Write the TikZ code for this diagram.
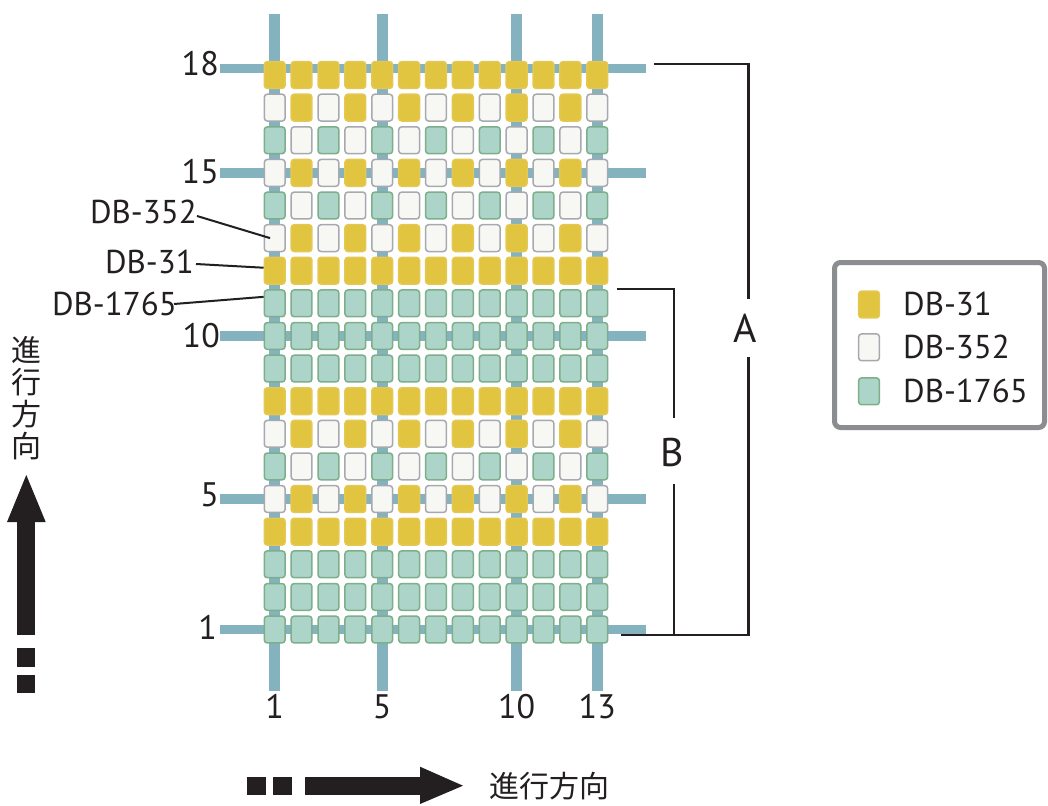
\documentclass[tikz,border=0pt]{standalone}
\usepackage{fontspec}
\setmainfont{PT Sans}
\newfontfamily\jpfont{Noto Sans CJK JP}
\usetikzlibrary{backgrounds}
\definecolor{warp}{HTML}{85B2BF}
\definecolor{dbY}{HTML}{E1C440}
\definecolor{dbYb}{HTML}{E4C852}
\definecolor{dbW}{HTML}{F7F7F3}
\definecolor{dbWb}{HTML}{A6A9AE}
\definecolor{dbG}{HTML}{ADD4C8}
\definecolor{dbGb}{HTML}{7CAF8A}
\definecolor{ink}{HTML}{231F20}
\definecolor{legb}{HTML}{8B8D90}
\begin{document}
\begin{tikzpicture}[x=1pt,y=-1pt,
  cellbase/.style={rectangle,inner sep=0pt,minimum width=20.8pt,minimum height=26.8pt,rounded corners=3pt,line width=1.5pt},
  cellY/.style={cellbase,fill=dbY,draw=dbYb},
  cellW/.style={cellbase,fill=dbW,draw=dbWb},
  cellG/.style={cellbase,fill=dbG,draw=dbGb},
  cellY0/.style={cellY}, cellY1/.style={cellY},
  cellG0/.style={cellG}, cellG1/.style={cellG},
  cellA0/.style={cellY}, cellA1/.style={cellW},
  cellB0/.style={cellW}, cellB1/.style={cellG},
  warpv/.style={draw=warp,line width=11pt},
  warph/.style={draw=warp,line width=9.5pt},
  lbl/.style={inner sep=0pt,text=ink,font=\fontsize{33}{36}\selectfont},
  num/.style={inner sep=0pt,text=ink,font=\fontsize{34}{36}\selectfont},
  brl/.style={inner sep=0pt,text=ink,font=\fontsize{40}{44}\selectfont},
  lead/.style={draw=ink,line width=2pt},
  brk/.style={draw=ink,line width=2.2pt},
  jp/.style={inner sep=0pt,text=ink,font=\jpfont\fontsize{30}{32}\selectfont}
]
\useasboundingbox (0,0) rectangle (1048,805);

% cells
\foreach \r/\t in {1/G,2/G,3/G,4/Y,5/A,6/B,7/A,8/Y,9/G,10/G,11/G,12/Y,13/A,14/B,15/A,16/B,17/A,18/Y}{
  \foreach \c in {1,...,13}{
    \pgfmathtruncatemacro{\od}{mod(\c,2)}
    \pgfmathsetmacro{\px}{274.7+(\c-1)*26.88}
    \pgfmathsetmacro{\py}{75+(18-\r)*32.62}
    \edef\tmp{\noexpand\node[cell\t\od] (c-\r-\c) at (\px,\py) {};}
    \tmp
  }
}

% warp / weft lines behind the cells
\coordinate (vtop) at (0,14);
\coordinate (vbot) at (0,690.7);
\coordinate (hl) at (220,0);
\coordinate (hr) at (646,0);
\coordinate (r18) at ([yshift=6.5pt]c-18-1.center);
\begin{pgfonlayer}{background}
  \fill[white] (0,0) rectangle (1048,805);
  \foreach \c in {1,5,10,13}{
    \draw[warpv] (c-1-\c |- vtop) -- (c-1-\c |- vbot);
  }
  \draw[warph] (hl |- r18) -- (hr |- r18);
  \foreach \r in {15,10,5,1}{
    \draw[warph] (hl |- c-\r-1) -- (hr |- c-\r-1);
  }
\end{pgfonlayer}

% row numbers
\node[num,anchor=east] (n18) at (219,64) {18};
\node[num,anchor=east] (n15) at (219,172) {15};
\node[num,anchor=east] (n10) at (220,336) {10};
\node[num,anchor=east] (n5) at (219,495) {5};
\node[num,anchor=east] (n1) at (217,627) {1};
% column numbers
\node[num] (m1) at (c-1-1 |- 0,706.7) {1};
\node[num] (m5) at (c-1-5 |- 0,706.7) {5};
\node[num] (m10) at (c-1-10 |- 0,706.7) {10};
\node[num] (m13) at (c-1-13 |- 0,706.7) {13};

% leader labels
\node[lbl,anchor=east] (l352) at (197,212) {DB-352};
\node[lbl,anchor=east] (l31) at (194,262) {DB-31};
\node[lbl,anchor=east] (l1765) at (177,304) {DB-1765};
\draw[lead] ([yshift=-4pt]l352.east) -- ([xshift=6.5pt]c-13-1.west);
\draw[lead] ([xshift=2pt,yshift=-2pt]l31.east) -- ([yshift=3pt]c-12-1.west);
\draw[lead] ([xshift=-3pt]l1765.east) -- ([yshift=6.5pt]c-11-1.west);

% brackets
\node[brl] (A) at (745,328) {A};
\node[brl] (B) at (672,452) {B};
\draw[brk] (654,64) -- (748.5,64) -- (748.5,299);
\draw[brk] (748.5,357) -- (748.5,635) -- (621,635);
\draw[brk] (616.7,289) -- (674,289) -- (674,418);
\draw[brk] (674,484) -- (674,635);

% legend
\node[draw=legb,line width=5pt,rounded corners=6pt,minimum width=210pt,minimum height=165pt,inner sep=0pt] (legend) at (939.5,345) {};
\node[cellY] (kY) at (869,304.5) {};
\node[cellW] (kW) at (869,347.3) {};
\node[cellG] (kG) at (869,391.3) {};
\node[lbl,anchor=west] (tY) at (903,304) {DB-31};
\node[lbl,anchor=west] (tW) at (903,347) {DB-352};
\node[lbl,anchor=west] (tG) at (903,391) {DB-1765};

% vertical direction arrow
\node[jp,align=center] (vt) at (27,398.5) {進\\行\\方\\向};
\fill[ink] (17.3,522) rectangle (35.3,635);
\fill[ink] (7,522) -- (26.3,475) -- (45.7,522) -- cycle;
\fill[ink] (17.3,648) rectangle (35.3,667);
\fill[ink] (17.3,675) rectangle (35.3,692.7);

% horizontal direction arrow
\fill[ink] (247,777) rectangle (266,795);
\fill[ink] (273,777) rectangle (292,795);
\fill[ink] (305,777) rectangle (420,795);
\fill[ink] (420,766.7) -- (463,785.7) -- (420,804) -- cycle;
\node[jp] (ht) at (549,786) {進行方向};
\end{tikzpicture}
\end{document}
